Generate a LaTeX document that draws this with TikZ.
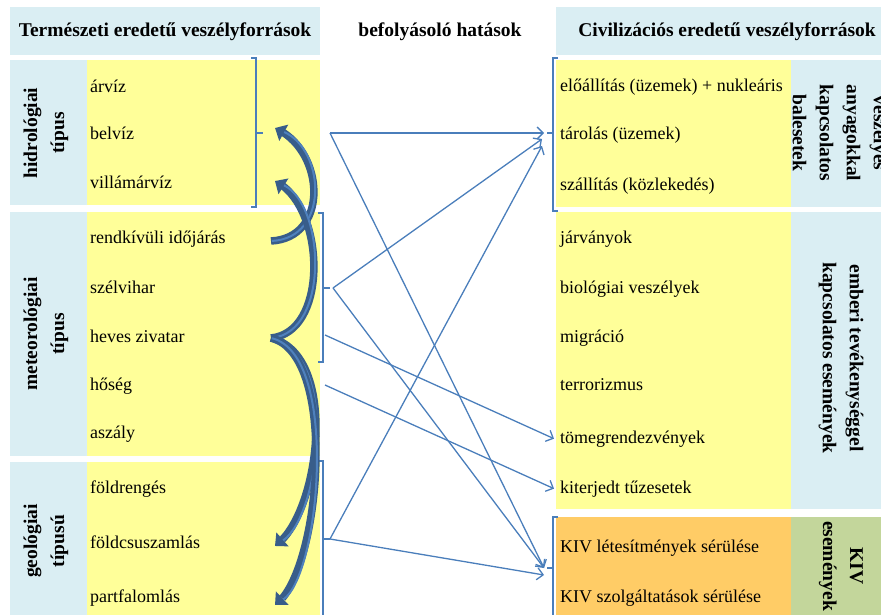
\documentclass[tikz,border=0pt]{standalone}
\usepackage{fontspec}
\setmainfont{Liberation Serif}
\usetikzlibrary{arrows.meta, bending, positioning}

\definecolor{paleblue}{HTML}{DAEEF3}
\definecolor{paleyellow}{HTML}{FFFF99}
\definecolor{kivorange}{HTML}{FFCC66}
\definecolor{kivgreen}{HTML}{C3D69B}
\definecolor{linkblue}{HTML}{4A7EBB}
\definecolor{benddark}{HTML}{385D8A}
\definecolor{bendlight}{HTML}{4F81BD}

\begin{document}
\begin{tikzpicture}[
        x = 1pt, y = -1pt,
        every node/.style = {font = \fontsize{18}{21}\selectfont},
        item/.style = {anchor = base west, inner sep = 0pt},
        head/.style = {font = \fontsize{19.5}{22}\selectfont\bfseries},
        side/.style = {font = \fontsize{19.5}{27}\selectfont\bfseries, align = center, inner sep = 0pt},
        bracket/.style = {draw = linkblue, line width = 1.3pt},
        link/.style = {draw = linkblue, line width = 1.3pt, -{Straight Barb[length = 6pt, width = 12pt]}},
        chain/.style = {draw = benddark, line width = 7.5pt, -{Triangle[length = 10pt, width = 18pt]},
            postaction = {draw = bendlight, line width = 2pt, -, shorten > = 10pt, shorten < = 1pt}}
    ]
      \useasboundingbox (0,0) rectangle (881,615);

      % headers
      \fill[paleblue] (10,7) rectangle (320,55);
      \fill[paleblue] (556,7) rectangle (881,55);
      \node[head] (natural) at (165,32) {Természeti eredetű veszélyforrások};
      \node[head] (influence) at (440,32) {befolyásoló hatások};
      \node[head] (civil) at (727,32) {Civilizációs eredetű veszélyforrások};

      % left groups
      \foreach \ya/\yb in {60/205, 212/456, 462/615} {
        \fill[paleblue] (10,\ya) rectangle (87,\yb);
        \fill[paleyellow] (87,\ya) rectangle (320,\yb);
      }
      \node[side, rotate = 90] (hydro) at (46,133) {hidrológiai\\típus};
      \node[side, rotate = 90] (meteo) at (46,334) {meteorológiai\\típus};
      \node[side, rotate = 90] (geo) at (46,541) {geológiai\\típusú};

      \foreach \name/\y/\txt in {arviz/93/árvíz, belviz/140/belvíz, villam/189/villámárvíz,
          rendkivuli/243/rendkívüli időjárás, szelvihar/293/szélvihar, zivatar/342/heves zivatar,
          hoseg/390/hőség, aszaly/438/aszály,
          foldrenges/493/földrengés, csuszamlas/548/földcsuszamlás, partfal/602/partfalomlás}
        \node[item] (\name) at (90,\y) {\txt};

      % right groups
      \fill[paleyellow] (556,60) rectangle (791,207);
      \fill[paleblue] (791,60) rectangle (881,207);
      \fill[paleyellow] (556,212) rectangle (791,509);
      \fill[paleblue] (791,212) rectangle (881,509);
      \fill[kivorange] (556,517) rectangle (791,615);
      \fill[kivgreen] (791,517) rectangle (881,615);
      \node[side, rotate = -90] (hazmat) at (840,133) {veszélyes\\anyagokkal\\kapcsolatos\\balesetek};
      \node[side, rotate = -90] (human) at (841,358) {emberi tevékenységgel\\kapcsolatos események};
      \node[side, rotate = -90] (kiv) at (841,566) {KIV\\események};

      \foreach \name/\y/\txt in {eloallitas/92/előállítás (üzemek) + nukleáris, tarolas/140/tárolás (üzemek),
          szallitas/190/szállítás (közlekedés),
          jarvanyok/243/járványok, biologiai/293/biológiai veszélyek, migracio/342/migráció,
          terror/390/terrorizmus, tomeg/443/tömegrendezvények, tuzeset/493/kiterjedt tűzesetek,
          letesitmeny/552/KIV létesítmények sérülése, szolgaltatas/602/KIV szolgáltatások sérülése}
        \node[item] (\name) at (560,\y) {\txt};

      % brackets
      \draw[bracket] (251,58) -- (256,58) -- (256,207) -- (251,207) (256,133) -- (263,133);
      \draw[bracket] (318,213) -- (323,213) -- (323,362) -- (318,362) (323,288) -- (330,288);
      \draw[bracket] (318,461) -- (323,461) -- (323,620) (323,539) -- (330,539);
      \draw[bracket] (558,58) -- (553,58) -- (553,211) -- (558,211) (553,133) -- (547,133);
      \draw[bracket] (558,517) -- (553,517) -- (553,620) (553,568) -- (547,568);

      % influences
      \coordinate (fromHydro) at (330,133);
      \coordinate (fromMeteo) at (333,288);
      \coordinate (fromStorm) at (325,335);
      \coordinate (fromHeat) at (325,385);
      \coordinate (fromGeo) at (330,539);
      \coordinate (toHazmatA) at (544,133);
      \coordinate (toHazmatB) at (542,139);
      \coordinate (toHazmatC) at (542,146);
      \coordinate (toKivA) at (544,568);
      \coordinate (toKivB) at (544,575);

      \draw[link] (fromHydro) -- (toHazmatA);
      \draw[link] (fromHydro) -- (toKivA);
      \draw[link] (fromMeteo) -- (toHazmatB);
      \draw[link] (fromMeteo) -- (toKivA);
      \draw[link] (fromStorm) -- ([xshift = -6pt]tomeg.west);
      \draw[link] (fromHeat) -- ([xshift = -6pt]tuzeset.west);
      \draw[link] (fromGeo) -- (toHazmatC);
      \draw[link] (fromGeo) -- (toKivB);

      % chained natural hazards
      \coordinate (extremeTail) at (271,241);
      \coordinate (stormTail) at (271,338);
      \draw[chain] (extremeTail) .. controls (330,238) and (325,150) .. (275,128);
      \draw[chain] (stormTail) .. controls (330,332) and (325,205) .. (275,181);
      \draw[chain] (stormTail) .. controls (340,355) and (320,515) .. (275,546);
      \draw[chain] (stormTail) .. controls (340,355) and (320,575) .. (275,605);
    \end{tikzpicture}
\end{document}
